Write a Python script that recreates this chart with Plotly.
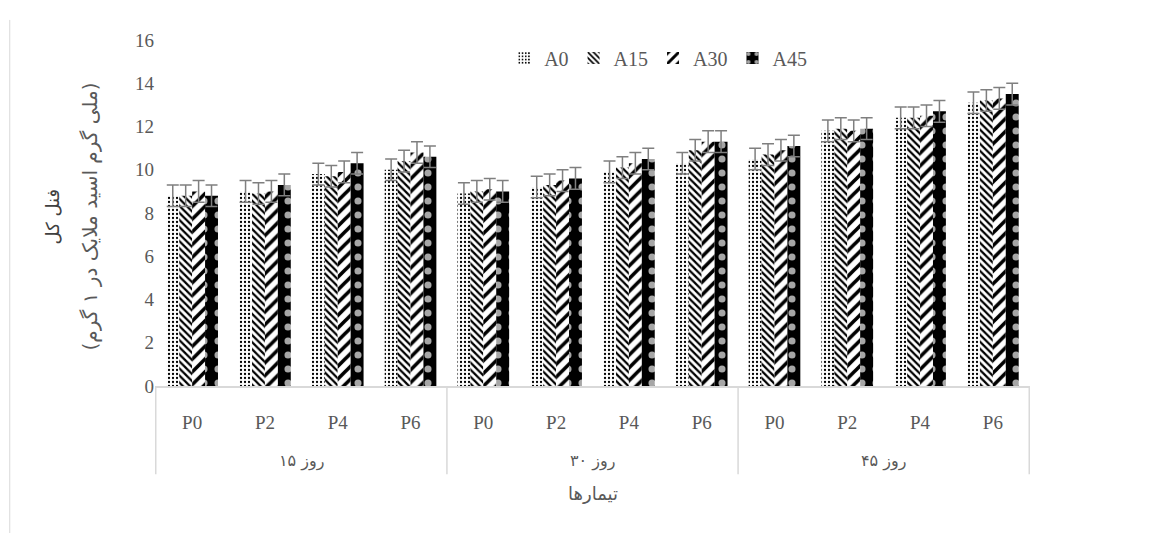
import plotly.graph_objects as go

# Sampling days and treatment levels
days = ["روز ۱۵", "روز ۳۰", "روز ۴۵"]
treatments = ["P0", "P2", "P4", "P6"]

# Total phenol means for each coating level (ordered day by day, P0..P6)
a0 = [8.8, 9.0, 9.8, 10.0, 8.9, 9.2, 9.9, 10.3, 10.5, 11.8, 12.4, 13.1]
a15 = [8.8, 8.9, 9.7, 10.4, 9.0, 9.3, 10.1, 10.9, 10.7, 11.9, 12.4, 13.2]
a30 = [9.0, 9.0, 9.9, 10.8, 9.1, 9.5, 10.3, 11.3, 10.9, 11.8, 12.5, 13.3]
a45 = [8.8, 9.3, 10.3, 10.6, 9.0, 9.6, 10.5, 11.3, 11.1, 11.9, 12.7, 13.5]
err = [0.5, 0.5, 0.5, 0.5, 0.5, 0.5, 0.5, 0.5, 0.5, 0.5, 0.5, 0.5]

series_names = ["A0", "A15", "A30", "A45"]
series_values = [a0, a15, a30, a45]

y_title_main = "فنل کل"
y_title_unit = "(ملی گرم اسید ملایک در ۱ گرم)"
x_title = "تیمارها"

# One category slot per (day, treatment) pair; the visible tick text is the treatment
slots = [f"{d} {t}" for d in days for t in treatments]
slot_text = [t for _ in days for t in treatments]

styles = [
    dict(color="white", pattern=dict(shape=".", fgcolor="black", bgcolor="white",
                                     fgopacity=1, size=4, solidity=0.25)),
    dict(color="white", pattern=dict(shape="\\", fgcolor="black", bgcolor="white",
                                     fgopacity=1, size=5, solidity=0.45)),
    dict(color="white", pattern=dict(shape="/", fgcolor="black", bgcolor="white",
                                     fgopacity=1, size=9, solidity=0.4)),
    dict(color="black", pattern=dict(shape=".", fgcolor="#a6a6a6", bgcolor="black",
                                     fgopacity=1, size=14, solidity=0.2)),
]

text_color = "#595959"
grid_color = "#d9d9d9"
serif = "Liberation Serif, Times New Roman, serif"
arabic = "DejaVu Sans"

fig = go.Figure()
for name, vals, st in zip(series_names, series_values, styles):
    fig.add_trace(go.Bar(
        name=name,
        x=slots,
        y=vals,
        marker=dict(color=st["color"], pattern=st["pattern"], line=dict(width=0)),
        error_y=dict(type="data", array=err, color="#7f7f7f", thickness=1.5, width=6),
    ))

fig.update_layout(
    width=1152,
    height=533,
    barmode="group",
    bargap=0.29,
    bargroupgap=0,
    plot_bgcolor="white",
    paper_bgcolor="white",
    margin=dict(l=155, r=122, t=40, b=147),
    font=dict(family=serif, size=19, color=text_color),
    showlegend=True,
    legend=dict(
        orientation="h",
        x=0.575, xanchor="center",
        y=0.948, yanchor="middle",
        font=dict(family=serif, size=20, color=text_color),
        itemwidth=30,
        traceorder="normal",
        bgcolor="rgba(0,0,0,0)",
    ),
    xaxis=dict(
        type="category",
        tickvals=slots,
        ticktext=slot_text,
        showline=True,
        linecolor=grid_color,
        linewidth=1.5,
        ticks="",
        ticklabelstandoff=18,
        tickfont=dict(family=serif, size=19, color=text_color),
        showgrid=False,
    ),
    yaxis=dict(
        range=[0, 16],
        dtick=2,
        showgrid=False,
        showline=False,
        zeroline=False,
        ticks="",
        tickfont=dict(family=serif, size=19, color=text_color),
    ),
)

n_t = len(treatments)

# Group dividers below the category axis
for k in range(len(days) + 1):
    fig.add_shape(type="line", xref="x", yref="paper",
                  x0=k * n_t - 0.5, x1=k * n_t - 0.5, y0=0, y1=-0.255,
                  line=dict(color=grid_color, width=1.5))

# Day labels centred under each group
for k, d in enumerate(days):
    fig.add_annotation(text=d, xref="x", yref="paper",
                       x=k * n_t + (n_t - 1) / 2, y=0, yshift=-75,
                       yanchor="middle", showarrow=False,
                       font=dict(family=arabic, size=16, color=text_color))

# Axis titles
fig.add_annotation(text=x_title, xref="paper", yref="paper", x=0.5, y=0, yshift=-107,
                   yanchor="middle", showarrow=False,
                   font=dict(family=arabic, size=18, color=text_color))
fig.add_annotation(text=y_title_main, xref="paper", yref="paper",
                   x=-0.1177, y=0.49, textangle=-90, showarrow=False,
                   xanchor="center", yanchor="middle",
                   font=dict(family=arabic, size=18, color="#404040"))
fig.add_annotation(text=y_title_unit, xref="paper", yref="paper",
                   x=-0.0743, y=0.49, textangle=-90, showarrow=False,
                   xanchor="center", yanchor="middle",
                   font=dict(family=arabic, size=20, color=text_color))

# Outer chart frame line on the left edge
fig.add_shape(type="line", xref="paper", yref="paper",
              x0=-0.166, x1=-0.166, y0=-0.425, y1=1.058,
              line=dict(color=grid_color, width=1))

fig.write_html("out.html")
